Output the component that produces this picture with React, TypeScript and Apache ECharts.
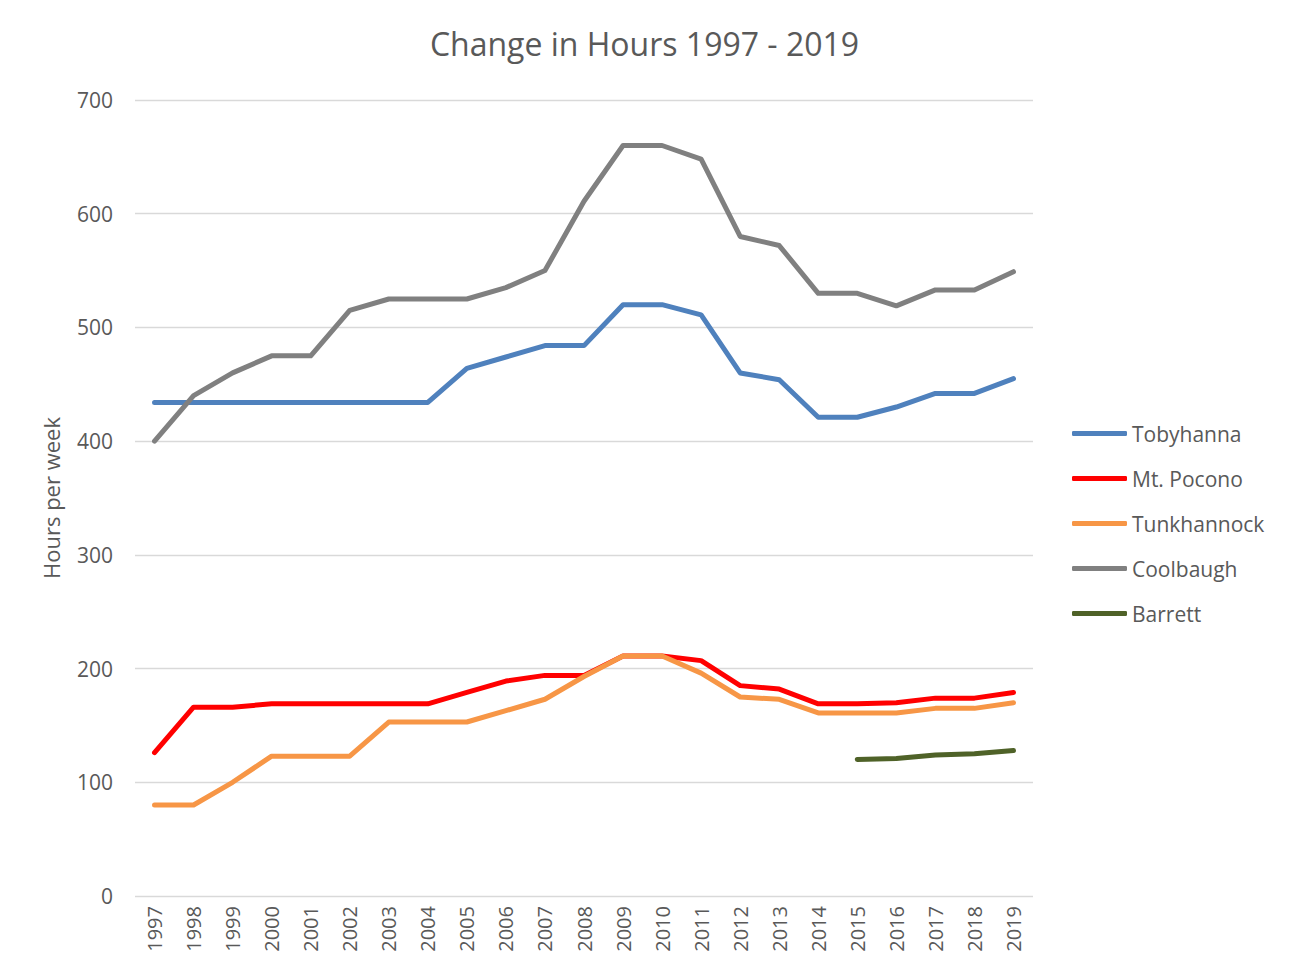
import React, { useEffect, useRef } from "react";
import * as echarts from "echarts";

const years = [
  "1997", "1998", "1999", "2000", "2001", "2002", "2003", "2004", "2005", "2006", "2007", "2008",
  "2009", "2010", "2011", "2012", "2013", "2014", "2015", "2016", "2017", "2018", "2019",
];
const tobyhanna = [434, 434, 434, 434, 434, 434, 434, 434, 464, 474, 484, 484, 520, 520, 511, 460, 454, 421, 421, 430, 442, 442, 455];
const mtPocono = [126, 166, 166, 169, 169, 169, 169, 169, 179, 189, 194, 194, 211, 211, 207, 185, 182, 169, 169, 170, 174, 174, 179];
const tunkhannock = [80, 80, 100, 123, 123, 123, 153, 153, 153, 163, 173, 193, 211, 211, 196, 175, 173, 161, 161, 161, 165, 165, 170];
const coolbaugh = [400, 440, 460, 475, 475, 515, 525, 525, 525, 535, 550, 611, 660, 660, 648, 580, 572, 530, 530, 519, 533, 533, 549];
const barrett = [null, null, null, null, null, null, null, null, null, null, null, null, null, null, null, null, null, null, 120, 121, 124, 125, 128];

const seriesNames = ["Tobyhanna", "Mt. Pocono", "Tunkhannock", "Coolbaugh", "Barrett"];
const seriesData = [tobyhanna, mtPocono, tunkhannock, coolbaugh, barrett];
const seriesColors = ["#4F81BD", "#FF0000", "#F79646", "#808080", "#4F6228"];

const FONT = "'Open Sans', 'Noto Sans', sans-serif";

export default function App() {
  const ref = useRef<HTMLDivElement>(null);
  useEffect(() => {
    if (!ref.current) return;
    const chart = echarts.init(ref.current, null, { renderer: "svg" });
    chart.setOption({
      animation: false,
      backgroundColor: "#ffffff",
      textStyle: { fontFamily: FONT },
      title: {
        text: "Change in Hours 1997 - 2019",
        left: "center",
        top: 22,
        textStyle: { fontFamily: FONT, fontSize: 32, fontWeight: "normal", color: "#595959" },
      },
      legend: {
        orient: "vertical",
        left: 1067,
        top: 418,
        itemWidth: 55,
        itemHeight: 5,
        itemGap: 24,
        icon: "roundRect",
        textStyle: { fontFamily: FONT, fontSize: 21, color: "#595959" },
        data: seriesNames,
      },
      grid: { left: 135, right: 256, top: 100, bottom: 80 },
      xAxis: {
        type: "category",
        data: years,
        boundaryGap: true,
        axisLine: { show: false },
        axisTick: { show: false },
        axisLabel: {
          rotate: 90,
          fontFamily: FONT,
          fontSize: 20,
          color: "#595959",
          margin: 10,
          interval: 0,
        },
      },
      yAxis: {
        type: "value",
        min: 0,
        max: 700,
        interval: 100,
        name: "Hours per week",
        nameLocation: "middle",
        nameGap: 73,
        nameTextStyle: { fontFamily: FONT, fontSize: 22, color: "#595959" },
        axisLine: { show: false },
        axisTick: { show: false },
        axisLabel: { fontFamily: FONT, fontSize: 21, color: "#595959", margin: 22 },
        splitLine: { lineStyle: { color: "#D9D9D9", width: 1.3 } },
      },
      series: seriesNames.map((name, i) => ({
        name,
        type: "line",
        data: seriesData[i],
        showSymbol: false,
        symbol: "none",
        connectNulls: false,
        lineStyle: { color: seriesColors[i], width: 5, cap: "round", join: "round" },
        itemStyle: { color: seriesColors[i] },
      })),
    });
    return () => chart.dispose();
  }, []);
  return (
    <div
      ref={ref}
      style={{ position: "fixed", left: 0, top: 0, width: 1289, height: 976, background: "#fff" }}
    />
  );
}
